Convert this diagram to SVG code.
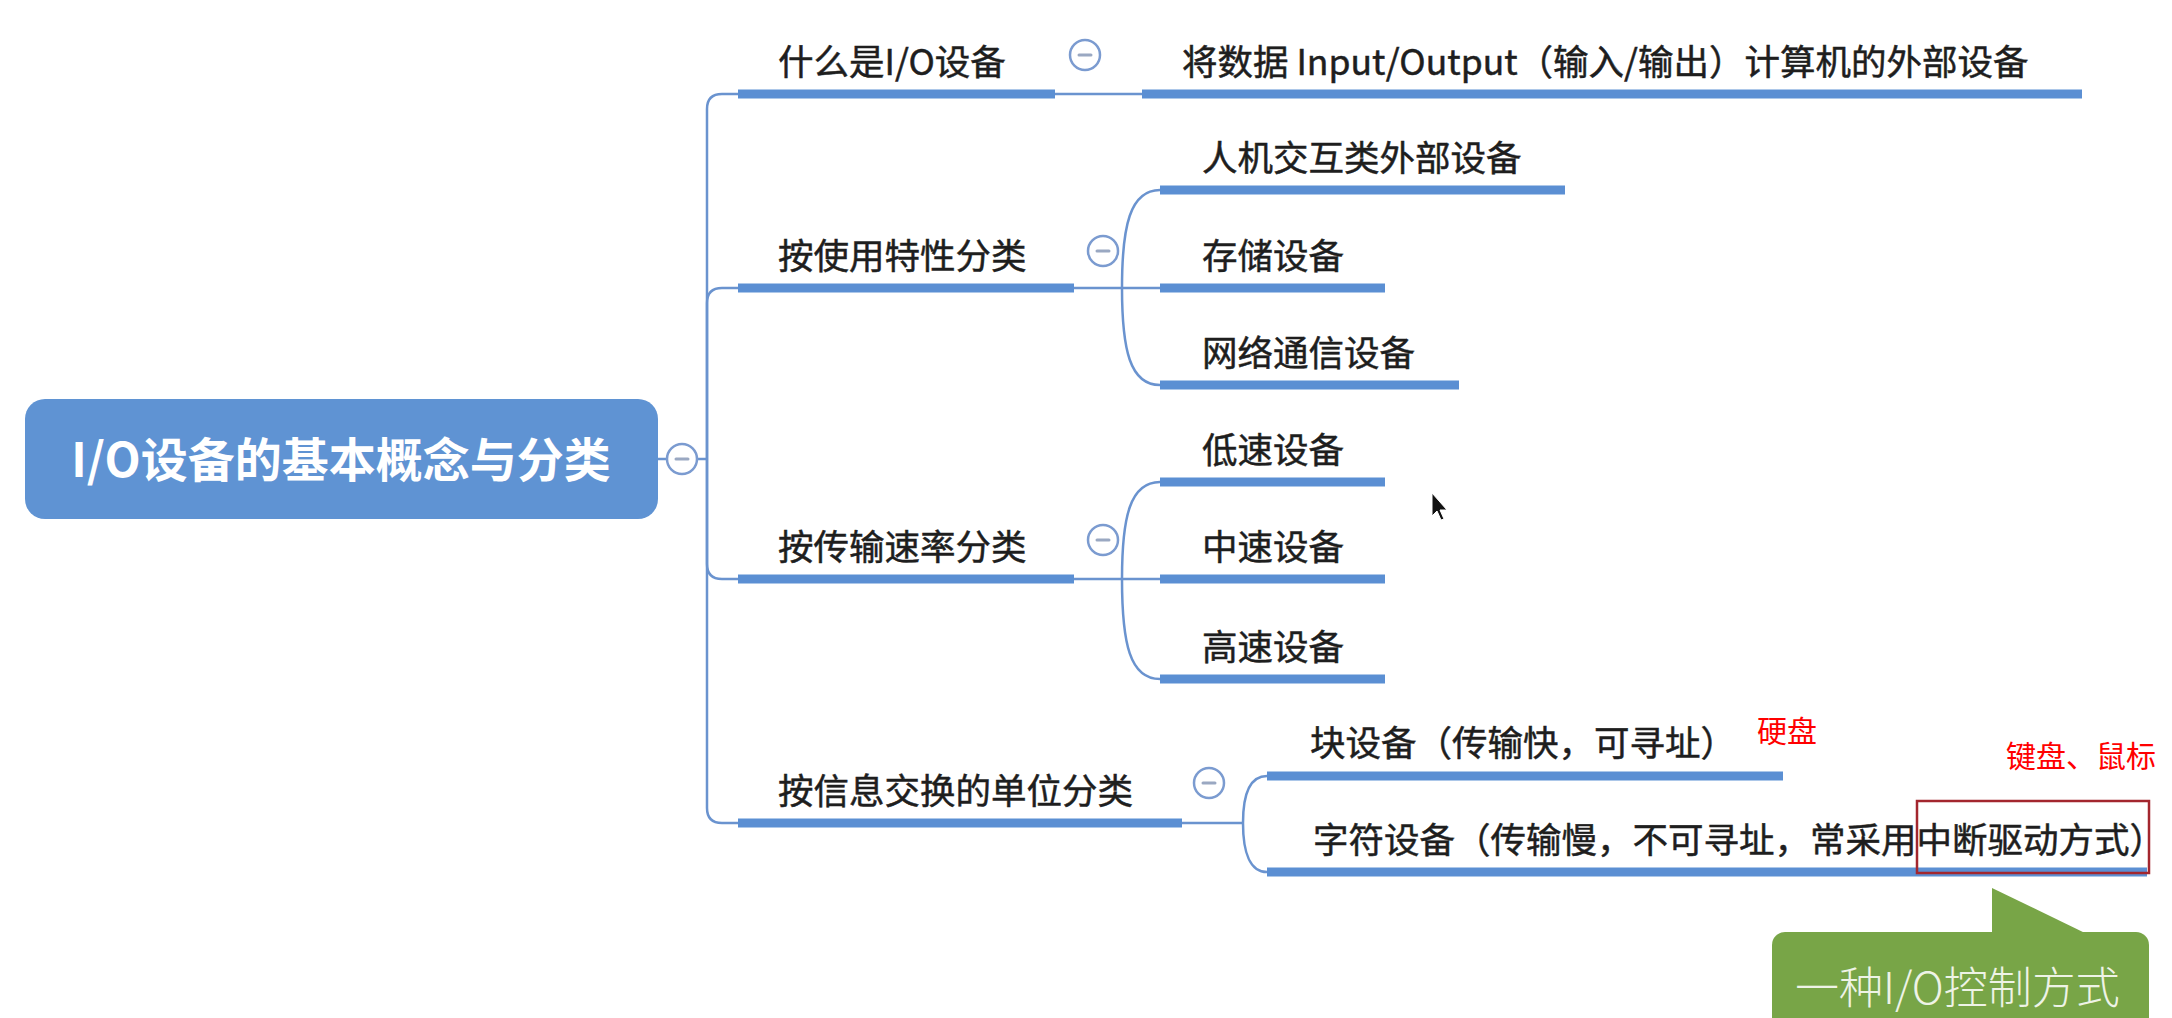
<svg xmlns="http://www.w3.org/2000/svg" width="2172" height="1018" viewBox="0 0 2172 1018">
  <style>
    .bar { fill: #5b8fd3; }
    .ln { fill: none; stroke: #6a93cf; stroke-width: 2.5; }
    .t { font-family: "Noto Sans CJK SC", "Noto Sans", sans-serif; font-size: 35.5px; fill: #1e1e1e; stroke: #1e1e1e; stroke-width: 0.5; }
    .tog circle { fill: #fff; stroke: #7b9bd0; stroke-width: 2.5; }
    .tog line { stroke: #9aa8c2; stroke-width: 3; stroke-linecap: round; }
    .note { font-family: "Noto Sans CJK SC", sans-serif; font-size: 30px; fill: #ff0000; }
  </style>
  <defs>
    <g id="toggle" class="tog">
      <circle r="15"/>
      <line x1="-6" y1="0" x2="6" y2="0"/>
    </g>
  </defs>
  <rect width="2172" height="1018" fill="#ffffff"/>

  <!-- branch connectors -->
  <g id="connectors">
    <path class="ln" d="M657,459 H707"/>
    <path class="ln" d="M707,459 V109 Q707,94 722,94 H738"/>
    <path class="ln" d="M707,459 V303 Q707,288 722,288 H738"/>
    <path class="ln" d="M707,459 V564 Q707,579 722,579 H738"/>
    <path class="ln" d="M707,459 V808 Q707,823 722,823 H738"/>
    <path class="ln" d="M1055,94 H1142"/>
    <path class="ln" d="M1074,288 H1160"/>
    <path class="ln" d="M1122,288 C1122,226 1130,190 1160,190"/>
    <path class="ln" d="M1122,288 C1122,350 1130,385 1160,385"/>
    <path class="ln" d="M1074,579 H1160"/>
    <path class="ln" d="M1122,579 C1122,517 1130,482 1160,482"/>
    <path class="ln" d="M1122,579 C1122,644 1130,679 1160,679"/>
    <path class="ln" d="M1182,823 H1243"/>
    <path class="ln" d="M1243,823 C1243,795 1250,776 1267,776"/>
    <path class="ln" d="M1243,823 C1243,852 1250,872 1267,872"/>
  </g>

  <!-- central topic -->
  <g id="root">
    <rect x="25" y="399" width="633" height="120" rx="20" fill="#5f93d3"/>
    <text x="341" y="477" text-anchor="middle" font-family="'Noto Sans CJK SC', 'Noto Sans', sans-serif" font-size="47" font-weight="bold" fill="#ffffff">I/O设备的基本概念与分类</text>
    <use href="#toggle" x="682" y="459"/>
  </g>

  <!-- branch: what is an I/O device -->
  <g id="b1">
    <rect class="bar" x="738" y="89.5" width="317" height="9"/>
    <text class="t" x="778" y="75">什么是I/O设备</text>
    <use href="#toggle" x="1085" y="55"/>
  </g>
  <g id="b1-1">
    <rect class="bar" x="1142" y="89.5" width="940" height="9"/>
    <text class="t" x="1182" y="75">将数据 Input/Output（输入/输出）计算机的外部设备</text>
  </g>

  <!-- branch: by usage -->
  <g id="b2">
    <rect class="bar" x="738" y="283.5" width="336" height="9"/>
    <text class="t" x="778" y="269">按使用特性分类</text>
    <use href="#toggle" x="1103" y="251"/>
  </g>
  <g id="b2-1">
    <rect class="bar" x="1160" y="185.5" width="405" height="9"/>
    <text class="t" x="1202" y="171">人机交互类外部设备</text>
  </g>
  <g id="b2-2">
    <rect class="bar" x="1160" y="283.5" width="225" height="9"/>
    <text class="t" x="1202" y="269">存储设备</text>
  </g>
  <g id="b2-3">
    <rect class="bar" x="1160" y="380.5" width="299" height="9"/>
    <text class="t" x="1202" y="366">网络通信设备</text>
  </g>

  <!-- branch: by transfer rate -->
  <g id="b3">
    <rect class="bar" x="738" y="574.5" width="336" height="9"/>
    <text class="t" x="778" y="560">按传输速率分类</text>
    <use href="#toggle" x="1103" y="540"/>
  </g>
  <g id="b3-1">
    <rect class="bar" x="1160" y="477.5" width="225" height="9"/>
    <text class="t" x="1202" y="463">低速设备</text>
  </g>
  <g id="b3-2">
    <rect class="bar" x="1160" y="574.5" width="225" height="9"/>
    <text class="t" x="1202" y="560">中速设备</text>
  </g>
  <g id="b3-3">
    <rect class="bar" x="1160" y="674.5" width="225" height="9"/>
    <text class="t" x="1202" y="660">高速设备</text>
  </g>

  <!-- branch: by unit of exchange -->
  <g id="b4">
    <rect class="bar" x="738" y="818.5" width="444" height="9"/>
    <text class="t" x="778" y="804">按信息交换的单位分类</text>
    <use href="#toggle" x="1209" y="783"/>
  </g>
  <g id="b4-1">
    <rect class="bar" x="1267" y="771.5" width="516" height="9"/>
    <text class="t" x="1310" y="756">块设备（传输快，可寻址）</text>
    <text class="note" x="1757" y="742">硬盘</text>
  </g>
  <g id="b4-2">
    <rect class="bar" x="1267" y="867.5" width="880" height="9"/>
    <text class="t" x="1313" y="853">字符设备（传输慢，不可寻址，常采用中断驱动方式）</text>
    <text class="note" x="2006" y="767">键盘、鼠标</text>
    <rect x="1917" y="801" width="232" height="72" fill="none" stroke="#a3262e" stroke-width="2.5"/>
  </g>

  <!-- callout -->
  <g id="callout">
    <rect x="1772" y="932" width="377" height="110" rx="13" fill="#78a547"/>
    <polygon points="1992,934 1992,888 2087,934" fill="#78a547"/>
    <text x="1795" y="1004" font-family="'Noto Sans CJK SC', 'Noto Sans', sans-serif" font-size="44" font-weight="300" fill="#eef3e6">一种I/O控制方式</text>
  </g>

  <!-- mouse pointer -->
  <path d="M1432,493 L1432,516 L1437,511 L1441,520 L1444,519 L1440,510 L1447,510 Z" fill="#111" stroke="#fff" stroke-width="1"/>
</svg>
